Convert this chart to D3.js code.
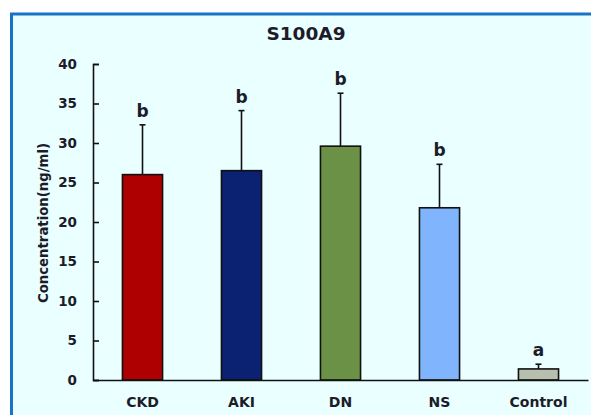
<!DOCTYPE html>
<html><head><meta charset="utf-8">
<script src="https://cdn.jsdelivr.net/npm/d3@7"></script>
<style>html,body{margin:0;padding:0;background:#fff;}svg{display:block;}</style>
</head><body>
<script>
const categories = ["CKD", "AKI", "DN", "NS", "Control"];
const means = [26.0, 26.5, 29.6, 21.8, 1.4];
const errors = [6.3, 7.6, 6.7, 5.5, 0.6];
const letters = ["b", "b", "b", "b", "a"];
const colors = ["#ae0000", "#0b2171", "#6a9146", "#80b4fc", "#b7c0af"];
const yTicks = [0, 5, 10, 15, 20, 25, 30, 35, 40];
const title = "S100A9";
const yLabel = "Concentration(ng/ml)";

const W = 591, H = 415;
const svg = d3.select("body").append("svg").attr("width", W).attr("height", H);
const font = "'DejaVu Sans', Verdana, sans-serif";
const txt = "#1c1c28";

// frame
svg.append("rect").attr("x", 11.5).attr("y", 14).attr("width", W + 10).attr("height", H + 10)
  .attr("fill", "#eaffff").attr("stroke", "#1a74c6").attr("stroke-width", 3);

const x = d3.scaleBand().domain(categories).range([93, 588]).paddingInner(0.595).paddingOuter(0.2975);
const y = d3.scaleLinear().domain([0, 40]).range([380, 64]);

// title
svg.append("text").attr("x", 306).attr("y", 40).attr("text-anchor", "middle")
  .attr("font-family", font).attr("font-weight", "bold").attr("font-size", 18.5)
  .attr("fill", txt).text(title);

// y axis
const yAxis = svg.append("g").attr("transform", "translate(93,0)")
  .call(d3.axisLeft(y).tickValues(yTicks).tickSizeInner(-6).tickSizeOuter(-6).tickPadding(16));
yAxis.select(".domain").attr("stroke", "#111").attr("stroke-width", 1.6);
yAxis.selectAll(".tick line").attr("stroke", "#111").attr("stroke-width", 1.6);
yAxis.selectAll(".tick text").attr("font-family", font).attr("font-weight", "bold")
  .attr("font-size", 13.5).attr("fill", txt);

// y label
svg.append("text").attr("transform", "translate(47.5,223) rotate(-90)").attr("text-anchor", "middle")
  .attr("font-family", font).attr("font-weight", "bold").attr("font-size", 13.5)
  .attr("textLength", 160).attr("lengthAdjust", "spacingAndGlyphs")
  .attr("fill", txt).text(yLabel);

// bars
const data = categories.map((c, i) => ({c, m: means[i], e: errors[i], l: letters[i], col: colors[i]}));
const g = svg.append("g");
g.selectAll("rect.bar").data(data).join("rect").attr("class", "bar")
  .attr("x", d => x(d.c)).attr("width", x.bandwidth())
  .attr("y", d => y(d.m)).attr("height", d => y(0) - y(d.m))
  .attr("fill", d => d.col).attr("stroke", "#111").attr("stroke-width", 1.6);

// error bars
g.selectAll("line.err").data(data).join("line").attr("class", "err")
  .attr("x1", d => x(d.c) + x.bandwidth() / 2).attr("x2", d => x(d.c) + x.bandwidth() / 2)
  .attr("y1", d => y(d.m)).attr("y2", d => y(d.m + d.e))
  .attr("stroke", "#111").attr("stroke-width", 1.6);
g.selectAll("line.cap").data(data).join("line").attr("class", "cap")
  .attr("x1", d => x(d.c) + x.bandwidth() / 2 - 3).attr("x2", d => x(d.c) + x.bandwidth() / 2 + 3)
  .attr("y1", d => y(d.m + d.e)).attr("y2", d => y(d.m + d.e))
  .attr("stroke", "#111").attr("stroke-width", 1.6);

// letters
g.selectAll("text.sig").data(data).join("text").attr("class", "sig")
  .attr("x", d => x(d.c) + x.bandwidth() / 2).attr("y", d => y(d.m + d.e) - 8)
  .attr("text-anchor", "middle").attr("font-family", font).attr("font-weight", "bold")
  .attr("font-size", 17).attr("fill", txt).text(d => d.l);

// x axis
const xAxis = svg.append("g").attr("transform", "translate(0,380)")
  .call(d3.axisBottom(x).tickSize(0).tickPadding(17));
xAxis.select(".domain").attr("stroke", "#111").attr("stroke-width", 1.6);
xAxis.selectAll(".tick text").attr("font-family", font).attr("font-weight", "bold")
  .attr("font-size", 14).attr("fill", txt);
</script>
</body></html>
